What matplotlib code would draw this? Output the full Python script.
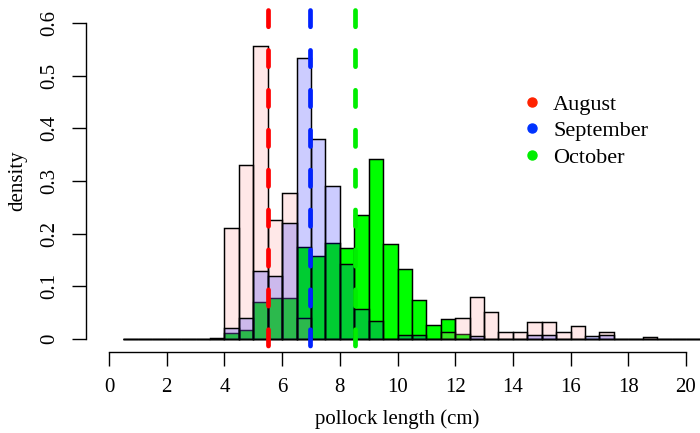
import numpy as np
import matplotlib
matplotlib.use("Agg")
import matplotlib.pyplot as plt
from matplotlib.lines import Line2D

plt.rcParams["font.family"] = ["Liberation Serif", "DejaVu Serif"]

# 0.5 cm length bins, left edges from 0.5 cm
bin_start = 0.5
bin_width = 0.5
months = ["August", "September", "October"]

# density per bin
aug = [0, 0, 0, 0, 0, 0,
       0.002, 0.211, 0.331, 0.557, 0.226, 0.278, 0.039, 0, 0, 0,
       0, 0, 0, 0, 0, 0, 0.013, 0.040, 0.079, 0.052, 0.013, 0.013,
       0.033, 0.033, 0.013, 0.025, 0, 0.013, 0, 0, 0.003, 0, 0, 0, 0]
sep = [0, 0, 0, 0, 0, 0,
       0, 0.020, 0.039, 0.130, 0.120, 0.221, 0.534, 0.380, 0.290, 0.142,
       0.057, 0.035, 0, 0.008, 0.008, 0, 0, 0, 0.006, 0, 0, 0,
       0.008, 0.008, 0, 0, 0.006, 0.007, 0, 0, 0, 0, 0, 0, 0]
oct_ = [0, 0, 0, 0, 0, 0,
        0, 0.011, 0.017, 0.071, 0.078, 0.078, 0.175, 0.157, 0.183, 0.173,
        0.235, 0.341, 0.180, 0.133, 0.074, 0.027, 0.038, 0.009, 0, 0, 0, 0,
        0, 0, 0, 0, 0, 0, 0, 0, 0, 0, 0, 0, 0]

# mean length per month
mean_len = [5.52, 6.96, 8.53]

line_cols = ["#ff0000", "#0022ff", "#00ee00"]

left = bin_start + bin_width * np.arange(len(aug))

fig = plt.figure(figsize=(7, 4.33), dpi=100)
ax = fig.add_axes([86 / 700, 81.4 / 433, 623 / 700, 341.2 / 433])

# october opaque underneath, the others see-through on top
ax.bar(left, oct_, width=bin_width, align="edge", facecolor="#00ff00",
       edgecolor="black", linewidth=1.05, zorder=1)
ax.bar(left, aug, width=bin_width, align="edge", facecolor=(1, 0.6, 0.6, 0.22),
       edgecolor="black", linewidth=1.05, zorder=2)
ax.bar(left, sep, width=bin_width, align="edge", facecolor=(0, 0, 1, 0.2),
       edgecolor="black", linewidth=1.05, zorder=3)

# monthly means, dashes run from the top down
for m, c in zip(mean_len, line_cols):
    ax.plot([m, m], [1, 0], transform=ax.get_xaxis_transform(), color=c,
            lw=3.4, dashes=(3.45, 5.0), dash_capstyle="round", zorder=5,
            clip_on=False)

ax.set_xlim(-0.8, 20.8)
ax.set_ylim(-0.024, 0.624)

for s in ["top", "right"]:
    ax.spines[s].set_visible(False)
ax.spines["left"].set_bounds(0, 0.6)
ax.spines["bottom"].set_bounds(0, 20)
ax.spines["left"].set_linewidth(1)
ax.spines["bottom"].set_linewidth(1)

ax.set_xticks(np.arange(0, 21, 2))
ax.set_yticks([0, 0.1, 0.2, 0.3, 0.4, 0.5, 0.6])
ax.set_yticklabels(["0", "0.1", "0.2", "0.3", "0.4", "0.5", "0.6"],
                   rotation=90, va="center")
ax.tick_params(axis="both", direction="out", length=10, width=1,
               labelsize=15, pad=9)

ax.set_xlabel("pollock length (cm)", fontsize=15, va="center")
ax.xaxis.set_label_coords(0.5, -0.199)
ax.set_ylabel("density", fontsize=15, va="center")
ax.yaxis.set_label_coords(-0.109, 0.5)

handles = [Line2D([], [], ls="", marker="o", markersize=6.5, color=c)
           for c in ["#ff2200", "#0033ff", "#00ee00"]]
fig.legend(handles, months, loc="upper left", frameon=False, fontsize=16,
           bbox_to_anchor=(521 / 700, 1 - 94 / 433), bbox_transform=fig.transFigure,
           borderpad=0, borderaxespad=0, handlelength=1.0, handletextpad=0.45,
           labelspacing=0.27)

fig.savefig("out.png", dpi=100)
